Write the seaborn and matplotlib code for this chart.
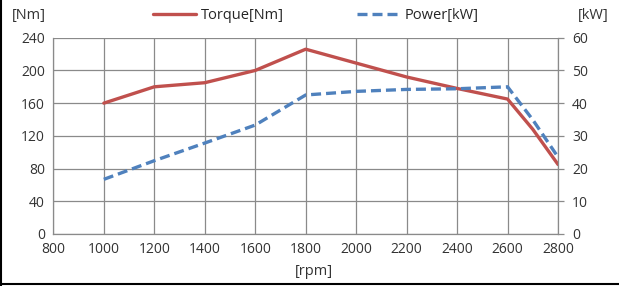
import matplotlib
matplotlib.use("Agg")
import matplotlib.pyplot as plt
from matplotlib.lines import Line2D
import pandas as pd
import seaborn as sns

# engine speed and measured curves
rpm = [1000, 1200, 1400, 1600, 1800, 2000, 2200, 2400, 2600, 2700, 2800]
torque_nm = [160, 180, 185, 200, 226, 209, 192, 178, 165, 128, 85]
power_kw = [16.7, 22.4, 27.8, 33.3, 42.5, 43.6, 44.2, 44.4, 45.0, 34.9, 23.5]

x_ticks = [800, 1000, 1200, 1400, 1600, 1800, 2000, 2200, 2400, 2600, 2800]
torque_ticks = [0, 40, 80, 120, 160, 200, 240]
power_ticks = [0, 10, 20, 30, 40, 50, 60]

df = pd.DataFrame({"rpm": rpm, "torque": torque_nm, "power": power_kw})

sns.set_style("white")
plt.rcParams["font.family"] = ["Open Sans", "DejaVu Sans"]
plt.rcParams["font.size"] = 10

red = "#C0504D"
blue = "#4F81BD"
grid_c = "#8A8A8A"

fig = plt.figure(figsize=(6.19, 2.86), dpi=100)
ax = fig.add_axes([0.0862, 0.182, 0.8153, 0.686])
ax2 = ax.twinx()

sns.lineplot(data=df, x="rpm", y="torque", ax=ax, color=red, linewidth=2.4,
             label="Torque[Nm]", legend=False)
sns.lineplot(data=df, x="rpm", y="power", ax=ax2, color=blue, linewidth=2.4,
             linestyle=(0, (3, 1.5)), label="Power[kW]", legend=False)

ax.set_xlim(800, 2800)
ax.set_ylim(0, 240)
ax2.set_ylim(0, 60)
ax.set_xticks(x_ticks)
ax.set_yticks(torque_ticks)
ax2.set_yticks(power_ticks)
ax.set_xlabel("")
ax.set_ylabel("")
ax2.set_ylabel("")

ax.grid(True, color=grid_c, linewidth=0.9)
ax.set_axisbelow(True)
for a in (ax, ax2):
    for s in a.spines.values():
        s.set_visible(False)
for a, side in ((ax, "left"), (ax, "bottom"), (ax2, "right")):
    a.spines[side].set_visible(True)
    a.spines[side].set_color(grid_c)
    a.spines[side].set_linewidth(0.9)

ax.tick_params(axis="both", length=0, pad=6, colors="#333333", labelsize=10)
ax2.tick_params(axis="y", length=4, width=0.9, color=grid_c, pad=6,
                labelcolor="#333333", labelsize=10)

fig.text(0.019, 0.945, "[Nm]", fontsize=10.5, color="#333333", va="center")
fig.text(0.933, 0.945, "[kW]", fontsize=10.5, color="#333333", va="center")
fig.text(0.477, 0.05, "[rpm]", fontsize=10.5, color="#333333", va="center")

handles = [Line2D([], [], color=red, linewidth=2.4),
           Line2D([], [], color=blue, linewidth=2.4, linestyle=(0, (3, 1.5)))]
fig.legend(handles, ["Torque[Nm]", "Power[kW]"], loc="center", ncol=2,
           bbox_to_anchor=(0.51, 0.945), frameon=False, fontsize=10.5,
           handlelength=3.0, columnspacing=5.0, handletextpad=0.3)

# frame lines at the left and bottom edges
fig.add_artist(Line2D([0.002, 0.002], [0.0, 1.0], color="black", linewidth=1.5))
fig.add_artist(Line2D([0.0, 1.0], [0.007, 0.007], color="black", linewidth=1.5))

fig.savefig("out.png", dpi=100)
